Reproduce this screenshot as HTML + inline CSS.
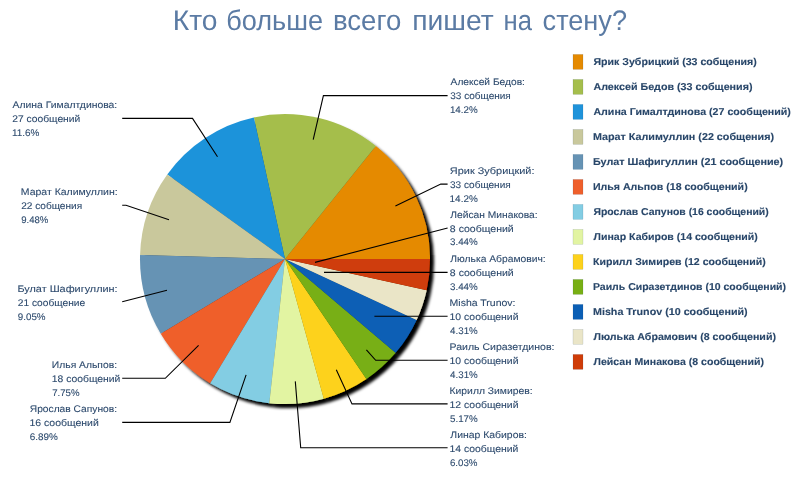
<!DOCTYPE html>
<html><head><meta charset="utf-8"><style>
html,body{margin:0;padding:0;background:#fff;width:800px;height:500px;overflow:hidden}
svg{display:block;will-change:transform}
.t{font-family:"Liberation Sans",sans-serif;text-rendering:geometricPrecision}
</style></head><body>
<svg width="800" height="500" viewBox="0 0 800 500">
<defs>
<filter id="sh" x="-10%" y="-10%" width="130%" height="130%">
<feGaussianBlur in="SourceAlpha" stdDeviation="1.6"/>
<feOffset dx="4" dy="4" result="b"/>
<feFlood flood-color="#000" flood-opacity="1"/>
<feComposite in2="b" operator="in"/>
<feMerge><feMergeNode/><feMergeNode in="SourceGraphic"/></feMerge>
</filter>
</defs>
<g class="t" font-size="28.3" fill="#5B7BA4">
<text transform="translate(174.90,29.80) scale(0.9973,1)" x="-2.21">Кто</text>
<text transform="translate(227.40,29.80) scale(0.9589,1)" x="-1.33">больше</text>
<text transform="translate(334.70,29.80) scale(0.9742,1)" x="-1.77">всего</text>
<text transform="translate(413.90,29.80) scale(1.0001,1)" x="-1.77">пишет</text>
<text transform="translate(505.20,29.80) scale(0.9067,1)" x="-1.77">на</text>
<text transform="translate(543.40,29.80) scale(0.9588,1)" x="-0.88">стену?</text>
</g>
<g filter="url(#sh)">
<path d="M285.0,259.0 L430.000,259.000 A145.0,145.0 0 0 0 375.844,145.985 Z" fill="#E58A00"/>
<path d="M285.0,259.0 L375.844,145.985 A145.0,145.0 0 0 0 253.829,117.390 Z" fill="#A5BE4C"/>
<path d="M285.0,259.0 L253.829,117.390 A145.0,145.0 0 0 0 167.233,174.408 Z" fill="#1F93DA"/>
<path d="M285.0,259.0 L167.233,174.408 A145.0,145.0 0 0 0 140.053,255.073 Z" fill="#C9C89C"/>
<path d="M285.0,259.0 L140.053,255.073 A145.0,145.0 0 0 0 160.756,333.755 Z" fill="#6693B4"/>
<path d="M285.0,259.0 L160.756,333.755 A145.0,145.0 0 0 0 210.245,383.244 Z" fill="#EF5F2B"/>
<path d="M285.0,259.0 L210.245,383.244 A145.0,145.0 0 0 0 269.323,403.150 Z" fill="#83CDE3"/>
<path d="M285.0,259.0 L269.323,403.150 A145.0,145.0 0 0 0 323.792,398.715 Z" fill="#E2F4A2"/>
<path d="M285.0,259.0 L323.792,398.715 A145.0,145.0 0 0 0 366.372,379.015 Z" fill="#FDD21C"/>
<path d="M285.0,259.0 L366.372,379.015 A145.0,145.0 0 0 0 395.513,352.871 Z" fill="#78AF14"/>
<path d="M285.0,259.0 L395.513,352.871 A145.0,145.0 0 0 0 416.598,319.884 Z" fill="#0B5FB5"/>
<path d="M285.0,259.0 L416.598,319.884 A145.0,145.0 0 0 0 426.610,290.171 Z" fill="#EAE5C7"/>
<path d="M285.0,259.0 L426.610,290.171 A145.0,145.0 0 0 0 430.000,259.000 Z" fill="#CF3C08"/>
</g>
<g fill="none" stroke="#000" stroke-width="1.1">
<polyline points="313.2,139.6 323.4,95.6 447.6,95.6"/>
<polyline points="395.4,206 440.8,184.1 447.6,184.1"/>
<polyline points="315,262.4 447.6,228.0"/>
<polyline points="324,272.4 447.6,272.4"/>
<polyline points="374.4,316.3 447.6,316.3"/>
<polyline points="366.4,349.9 375.7,360.3 447.6,360.3"/>
<polyline points="336.3,369.7 352,403.9 447.6,403.9"/>
<polyline points="295.3,381.4 300.7,447.8 447.6,447.8"/>
<polyline points="217.5,156.7 192.5,118.4 122.2,118.4"/>
<polyline points="169,219.8 126,205.3 122.2,205.3"/>
<polyline points="167,290.3 122.2,301.8"/>
<polyline points="198.6,345.4 165.3,378.3 122.2,378.3"/>
<polyline points="246.1,374.9 229.9,422.4 122.2,422.4"/>
</g>
<g class="t" font-size="9.6" fill="#2D4A6D" stroke="#2D4A6D" stroke-width="0.1">
<text transform="translate(450.60,84.90) scale(1.0624,1)" x="0.00">Алексей Бедов:</text>
<text transform="translate(450.60,98.80) scale(1.0422,1)" x="-0.30">33 собщения</text>
<text transform="translate(450.60,112.70) scale(1.0197,1)" x="-0.70">14.2%</text>
<text transform="translate(450.30,174.40) scale(1.1361,1)" x="-0.40">Ярик Зубрицкий:</text>
<text transform="translate(450.30,188.30) scale(1.0457,1)" x="-0.30">33 собщения</text>
<text transform="translate(450.30,202.20) scale(1.0350,1)" x="-0.70">14.2%</text>
<text transform="translate(450.30,217.60) scale(1.0682,1)" x="0.00">Лейсан Минакова:</text>
<text transform="translate(450.30,231.50) scale(1.0965,1)" x="-0.40">8 сообщений</text>
<text transform="translate(450.30,245.40) scale(1.0194,1)" x="-0.30">3.44%</text>
<text transform="translate(450.30,261.70) scale(1.0727,1)" x="0.00">Люлька Абрамович:</text>
<text transform="translate(450.30,275.60) scale(1.0965,1)" x="-0.40">8 сообщений</text>
<text transform="translate(450.30,289.50) scale(1.0194,1)" x="-0.30">3.44%</text>
<text transform="translate(450.30,305.70) scale(1.0951,1)" x="-0.70">Misha Trunov:</text>
<text transform="translate(450.30,319.60) scale(1.0848,1)" x="-0.70">10 сообщений</text>
<text transform="translate(450.30,333.50) scale(1.0156,1)" x="-0.20">4.31%</text>
<text transform="translate(450.30,349.70) scale(1.0965,1)" x="-0.70">Раиль Сиразетдинов:</text>
<text transform="translate(450.30,363.60) scale(1.0848,1)" x="-0.70">10 сообщений</text>
<text transform="translate(450.30,377.50) scale(1.0156,1)" x="-0.20">4.31%</text>
<text transform="translate(450.30,393.80) scale(1.0777,1)" x="-0.70">Кирилл Зимирев:</text>
<text transform="translate(450.30,407.70) scale(1.0848,1)" x="-0.70">12 сообщений</text>
<text transform="translate(450.30,421.60) scale(1.0194,1)" x="-0.30">5.17%</text>
<text transform="translate(450.30,437.70) scale(1.0864,1)" x="0.00">Линар Кабиров:</text>
<text transform="translate(450.30,451.60) scale(1.0832,1)" x="-0.70">14 сообщений</text>
<text transform="translate(450.30,465.50) scale(1.0157,1)" x="-0.40">6.03%</text>
<text transform="translate(12.60,107.80) scale(1.0796,1)" x="0.00">Алина Гималтдинова:</text>
<text transform="translate(12.60,121.70) scale(1.0716,1)" x="-0.40">27 сообщений</text>
<text transform="translate(12.60,135.60) scale(1.0364,1)" x="-0.70">11.6%</text>
<text transform="translate(21.60,194.80) scale(1.0914,1)" x="-0.70">Марат Калимуллин:</text>
<text transform="translate(21.60,208.70) scale(1.0493,1)" x="-0.40">22 собщения</text>
<text transform="translate(21.60,222.60) scale(0.9968,1)" x="-0.40">9.48%</text>
<text transform="translate(18.20,292.20) scale(1.1331,1)" x="-0.70">Булат Шафигуллин:</text>
<text transform="translate(18.20,306.10) scale(1.0601,1)" x="-0.40">21 сообщение</text>
<text transform="translate(18.20,320.00) scale(1.0195,1)" x="-0.40">9.05%</text>
<text transform="translate(52.60,368.10) scale(1.0742,1)" x="-0.70">Илья Альпов:</text>
<text transform="translate(52.60,382.00) scale(1.0784,1)" x="-0.70">18 сообщений</text>
<text transform="translate(52.60,395.90) scale(1.0044,1)" x="-0.40">7.75%</text>
<text transform="translate(30.20,412.30) scale(1.0653,1)" x="-0.40">Ярослав Сапунов:</text>
<text transform="translate(30.20,426.20) scale(1.0912,1)" x="-0.70">16 сообщений</text>
<text transform="translate(30.20,440.10) scale(1.0346,1)" x="-0.40">6.89%</text>
</g>
<g class="t" font-size="10" font-weight="bold" fill="#284669" stroke="#284669" stroke-width="0.12">
<rect x="573" y="54.40" width="10" height="15" fill="#E58A00"/>
<rect x="573" y="79.40" width="10" height="15" fill="#A5BE4C"/>
<rect x="573" y="104.40" width="10" height="15" fill="#1F93DA"/>
<rect x="573" y="129.40" width="10" height="15" fill="#C9C89C"/>
<rect x="573" y="154.40" width="10" height="15" fill="#6693B4"/>
<rect x="573" y="179.40" width="10" height="15" fill="#EF5F2B"/>
<rect x="573" y="204.40" width="10" height="15" fill="#83CDE3"/>
<rect x="573" y="229.40" width="10" height="15" fill="#E2F4A2"/>
<rect x="573" y="254.40" width="10" height="15" fill="#FDD21C"/>
<rect x="573" y="279.40" width="10" height="15" fill="#78AF14"/>
<rect x="573" y="304.40" width="10" height="15" fill="#0B5FB5"/>
<rect x="573" y="329.40" width="10" height="15" fill="#EAE5C7"/>
<rect x="573" y="354.40" width="10" height="15" fill="#CF3C08"/>
<text transform="translate(593.60,65.00) scale(1.0592,1)" x="-0.10">Ярик Зубрицкий (33 собщения)</text>
<text transform="translate(593.60,90.00) scale(1.0713,1)" x="-0.20">Алексей Бедов (33 собщения)</text>
<text transform="translate(593.60,115.00) scale(1.0647,1)" x="-0.20">Алина Гималтдинова (27 сообщений)</text>
<text transform="translate(593.60,140.00) scale(1.0752,1)" x="-0.60">Марат Калимуллин (22 собщения)</text>
<text transform="translate(593.60,165.00) scale(1.0801,1)" x="-0.60">Булат Шафигуллин (21 сообщение)</text>
<text transform="translate(593.60,190.00) scale(1.0599,1)" x="-0.60">Илья Альпов (18 сообщений)</text>
<text transform="translate(593.60,215.00) scale(1.0425,1)" x="-0.10">Ярослав Сапунов (16 сообщений)</text>
<text transform="translate(593.60,240.00) scale(1.0539,1)" x="0.00">Линар Кабиров (14 сообщений)</text>
<text transform="translate(593.60,265.00) scale(1.0569,1)" x="-0.60">Кирилл Зимирев (12 сообщений)</text>
<text transform="translate(593.60,290.00) scale(1.0485,1)" x="-0.60">Раиль Сиразетдинов (10 сообщений)</text>
<text transform="translate(593.60,315.00) scale(1.0737,1)" x="-0.60">Misha Trunov (10 сообщений)</text>
<text transform="translate(593.60,340.00) scale(1.0625,1)" x="0.00">Люлька Абрамович (8 сообщений)</text>
<text transform="translate(593.60,365.00) scale(1.0549,1)" x="0.00">Лейсан Минакова (8 сообщений)</text>
</g>
</svg>
</body></html>
